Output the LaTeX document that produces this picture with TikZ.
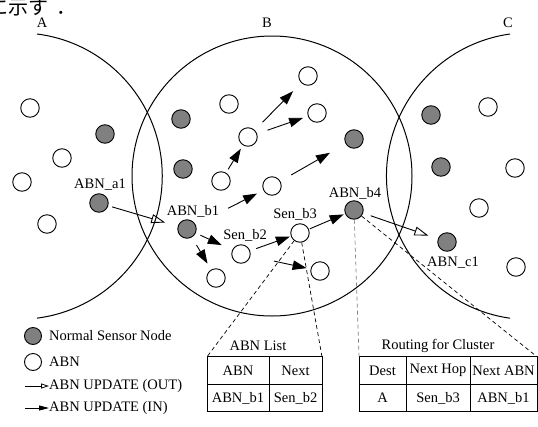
\documentclass[tikz,border=0pt]{standalone}
\usepackage{fontspec}
\setmainfont{Liberation Serif}
\newfontfamily\cjk{Noto Sans CJK JP}
\usetikzlibrary{positioning,arrows.meta}
\definecolor{sengray}{gray}{0.5}

\begin{document}
\begin{tikzpicture}[x=1pt,y=-1pt, every node/.style={font=\fontsize{14.5}{17}\selectfont},
  sen/.style={circle,draw,line width=0.9pt,fill=sengray,minimum size=18.5pt,inner sep=0pt},
  abn/.style={circle,draw,line width=0.9pt,fill=white,minimum size=18.5pt,inner sep=0pt},
  upin/.style={-{Triangle[length=14pt,width=9.5pt]},line width=0.9pt},
  upout/.style={-{Triangle[open,length=14pt,width=9pt]},line width=0.9pt},
  cell/.style={draw,line width=0.9pt,minimum height=27.5pt,inner sep=1pt,outer sep=0pt},
  lnk/.style={dash pattern=on 4pt off 3pt,line width=0.7pt}]
\useasboundingbox (0,0) rectangle (538,426);
\node[anchor=base west,inner sep=0pt,font=\cjk\fontsize{20}{20}\selectfont] (head) at (-11.5,14) {に示す\kern8pt．};

\draw[line width=1pt] (37,34) arc[start angle=82.8,end angle=-82.8,radius=143.2pt];
\draw[line width=1pt] (272,176) circle[radius=140pt];
\draw[line width=1pt] (510,34) arc[start angle=98,end angle=262,radius=143.5pt];
\node (labA) at (42,23) {A};
\node (labB) at (267,23) {B};
\node (labC) at (508,23) {C};

\node[abn] (wa1) at (30,108) {};
\node[sen] (ga1) at (105,134) {};
\node[abn] (wa2) at (62,158) {};
\node[abn] (wa3) at (22,182) {};
\node[sen] (abna1) at (99,203) {};
\node[abn] (wa4) at (47,224) {};

\node[sen] (gb1) at (181,119) {};
\node[sen] (gb2) at (183,169) {};
\node[abn] (wb1) at (229,104) {};
\node[abn] (wb2) at (248,137) {};
\node[abn] (wb3) at (221,181) {};
\node[abn] (wb4) at (272,186) {};
\node[abn] (wb5) at (308,76) {};
\node[abn] (wb6) at (317,113) {};
\node[sen] (gb3) at (354,139) {};
\node[sen] (abnb4) at (354,210) {};
\node[abn] (senb3) at (300,233) {};
\node[abn] (wb7) at (320,271) {};
\node[sen] (abnb1) at (187,229) {};
\node[abn] (senb2) at (241,254) {};
\node[abn] (wb8) at (216,278) {};

\node[sen] (gc1) at (431,115) {};
\node[abn] (wc1) at (488,107) {};
\node[sen] (gc2) at (441,167) {};
\node[abn] (wc2) at (515,168) {};
\node[abn] (wc3) at (479,208) {};
\node[sen] (abnc1) at (447,242) {};
\node[abn] (wc4) at (516,267) {};

\node (la1) at (100,185) {ABN\_a1};
\node (lb1) at (193,211) {ABN\_b1};
\node (lb2) at (245,235) {Sen\_b2};
\node (lb3) at (295,214) {Sen\_b3};
\node (lb4) at (355,193) {ABN\_b4};
\node (lc1) at (453,263) {ABN\_c1};

\draw[upin,shorten <=11pt,shorten >=11.5pt] (wb2) -- (wb5);
\draw[upin,shorten <=11pt,shorten >=5pt] (wb2) -- (wb6);
\draw[upin,shorten <=12.5pt,shorten >=18pt] (wb4) -- (gb3);
\draw[upin,shorten <=4pt,shorten >=4pt] (wb3) -- (wb2);
\draw[upin,shorten <=6pt,shorten >=7pt] (lb1.east) -- (wb4);
\draw[upin,shorten <=5pt,shorten >=11.5pt] (abnb1) -- (senb2);
\draw[upin,shorten <=9pt,shorten >=7pt] (abnb1) -- (wb8);
\draw[upin,shorten <=6.5pt,shorten >=1pt] (senb2) -- (senb3);
\draw[upin,shorten <=1pt,shorten >=1.5pt] (senb3) -- (abnb4);
\draw[upin,shorten <=24pt,shorten >=4pt] (senb2) -- (wb7);
\draw[upout,shorten <=4pt,shorten >=13pt] (abna1) -- (abnb1);
\draw[upout,shorten <=8pt,shorten >=10pt] (abnb4) -- (abnc1);

\node[cell,minimum width=62pt] (l11) at (238,370.5) {ABN};
\node[cell,minimum width=53pt,right=0pt of l11] (l12) {Next};
\node[cell,minimum width=62pt,below=0pt of l11] (l21) {ABN\_b1};
\node[cell,minimum width=53pt,below=0pt of l12] (l22) {Sen\_b2};
\node (ltitle) at (258,346) {ABN List};

\node[cell,minimum width=47pt] (r11) at (382.5,370.5) {Dest};
\node[cell,minimum width=64pt,right=0pt of r11] (r12) {Next Hop};
\node[cell,minimum width=67pt,right=0pt of r12] (r13) {Next ABN};
\node[cell,minimum width=47pt,below=0pt of r11] (r21) {A};
\node[cell,minimum width=64pt,below=0pt of r12] (r22) {Sen\_b3};
\node[cell,minimum width=67pt,below=0pt of r13] (r23) {ABN\_b1};
\node (rtitle) at (438,346) {Routing for Cluster};

\draw[lnk] (senb3) -- (l11.north west);
\draw[lnk] (senb3) -- (l12.north east);
\draw[lnk,gray] (abnb4) -- (r11.north west);
\draw[lnk] (abnb4) -- (r13.north east);

\node[sen,minimum size=17pt] (lgsen) at (33,336) {};
\node[anchor=west,inner sep=0pt] (lgsentxt) at (49,336) {Normal Sensor Node};
\node[abn,minimum size=17pt] (lgabn) at (33,362) {};
\node[anchor=west,inner sep=0pt] (lgabntxt) at (49,362) {ABN};
\coordinate (lgout) at (25,386);
\node[anchor=west,inner sep=0pt] (lgouttxt) at (49,386) {ABN UPDATE (OUT)};
\draw[-{Triangle[open,length=8pt,width=5pt]},line width=0.8pt] (lgout) -- (lgouttxt.west);
\coordinate (lgin) at (25,408);
\node[anchor=west,inner sep=0pt] (lgintxt) at (49,408) {ABN UPDATE (IN)};
\draw[-{Triangle[length=10pt,width=5pt]},line width=0.8pt] (lgin) -- (lgintxt.west);
\end{tikzpicture}
\end{document}
